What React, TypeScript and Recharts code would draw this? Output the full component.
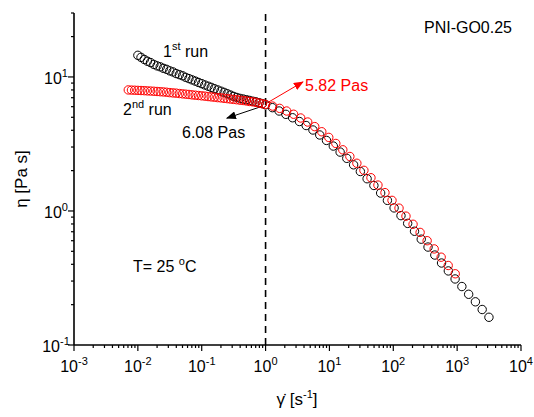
import React from "react";
import { ScatterChart, Scatter, XAxis, YAxis, ReferenceLine } from "recharts";

// shear rate [1/s] and viscosity [Pa s], 1st run (black)
const firstRunRate = [
  0.0100, 0.0112, 0.0126, 0.0141, 0.0158, 0.0178, 0.0200, 0.0224, 0.0251, 0.0282,
  0.0316, 0.0355, 0.0398, 0.0447, 0.0501, 0.0562, 0.0631, 0.0708, 0.0794, 0.0891,
  0.100, 0.112, 0.126, 0.141, 0.158, 0.178, 0.200, 0.224, 0.251, 0.282,
  0.316, 0.355, 0.398, 0.447, 0.501, 0.562, 0.631, 0.708, 0.794, 0.891,
  1.00, 1.28, 1.63, 2.08, 2.65, 3.39, 4.32, 5.52, 7.05, 8.99,
  11.5, 14.7, 18.7, 23.9, 30.5, 38.9, 49.7, 63.4, 80.9, 103,
  132, 168, 215, 274, 350, 447, 570, 728, 929, 1186,
  1514, 1932, 2466, 3148,
];
const firstRunEta = [
  14.5, 14.0, 13.5, 13.1, 12.8, 12.4, 12.1, 11.9, 11.6, 11.4,
  11.1, 10.9, 10.6, 10.4, 10.2, 9.93, 9.72, 9.51, 9.31, 9.10,
  8.91, 8.71, 8.53, 8.36, 8.17, 8.00, 7.83, 7.67, 7.50, 7.33,
  7.16, 7.03, 6.92, 6.84, 6.76, 6.68, 6.59, 6.52, 6.43, 6.32,
  6.19, 5.90, 5.57, 5.26, 4.96, 4.65, 4.34, 4.02, 3.69, 3.36,
  3.05, 2.75, 2.47, 2.21, 1.97, 1.74, 1.55, 1.36, 1.20, 1.054,
  0.923, 0.808, 0.706, 0.616, 0.538, 0.469, 0.409, 0.357, 0.311, 0.273,
  0.239, 0.210, 0.184, 0.161,
];

// 2nd run (red)
const secondRunRate = [
  0.00708, 0.00794, 0.00891,
  0.0100, 0.0112, 0.0126, 0.0141, 0.0158, 0.0178, 0.0200, 0.0224, 0.0251, 0.0282,
  0.0316, 0.0355, 0.0398, 0.0447, 0.0501, 0.0562, 0.0631, 0.0708, 0.0794, 0.0891,
  0.100, 0.112, 0.126, 0.141, 0.158, 0.178, 0.200, 0.224, 0.251, 0.282,
  0.316, 0.355, 0.398, 0.447, 0.501, 0.562, 0.631, 0.708, 0.794, 0.891,
  1.00, 1.29, 1.66, 2.14, 2.75, 3.55, 4.57, 5.89, 7.59, 9.77,
  12.6, 16.2, 20.9, 26.9, 34.7, 44.7, 57.5, 74.1, 95.5, 123,
  158, 204, 263, 339, 437, 562, 724, 933,
];
const secondRunEta = [
  8.00, 7.98, 7.96,
  7.94, 7.92, 7.90, 7.87, 7.85, 7.82, 7.79, 7.76, 7.73, 7.69,
  7.64, 7.60, 7.57, 7.52, 7.48, 7.44, 7.40, 7.35, 7.31, 7.27,
  7.23, 7.19, 7.14, 7.10, 7.06, 7.01, 6.98, 6.93, 6.89, 6.84,
  6.80, 6.76, 6.71, 6.67, 6.62, 6.56, 6.52, 6.46, 6.38, 6.31,
  6.24, 6.06, 5.83, 5.57, 5.27, 4.94, 4.61, 4.26, 3.90, 3.54,
  3.19, 2.86, 2.55, 2.27, 2.01, 1.77, 1.56, 1.37, 1.20, 1.05,
  0.915, 0.796, 0.692, 0.600, 0.521, 0.452, 0.392, 0.340,
];

const xExponents = [-3, -2, -1, 0, 1, 2, 3, 4];
const yExponents = [-1, 0, 1];
const minorSteps = [2, 3, 4, 5, 6, 7, 8, 9];
const xDomain = [1e-3, 1e4];
const yDomain = [0.1, 30];

const font = "Arial, 'Liberation Sans', sans-serif";

const xTicks = xExponents.flatMap((e) => [
  10 ** e,
  ...(e < xExponents[xExponents.length - 1] ? minorSteps.map((m) => m * 10 ** e) : []),
]);
const yTicks = yExponents
  .flatMap((e) => [10 ** e, ...minorSteps.map((m) => m * 10 ** e)])
  .filter((v) => v <= yDomain[1] + 1e-9);

const isMajor = (v: number) => {
  const l = Math.log10(v);
  return Math.abs(l - Math.round(l)) < 1e-6;
};

const Pow = ({ v }: { v: number }) => (
  <>
    <tspan>10</tspan>
    <tspan fontSize={11} dy={-7}>{Math.round(Math.log10(v))}</tspan>
  </>
);

const BottomTick = (p: any) => {
  const v = p.payload.value;
  const major = isMajor(v);
  return (
    <g>
      <line x1={p.x} x2={p.x} y1={p.y} y2={p.y + (major ? 6 : 3)} stroke="#000" strokeWidth={1.2} />
      {major && (
        <text x={p.x} y={p.y + 27} textAnchor="middle" fontSize={16} fontFamily={font} fill="#000">
          <Pow v={v} />
        </text>
      )}
    </g>
  );
};

const LeftTick = (p: any) => {
  const v = p.payload.value;
  const major = isMajor(v);
  return (
    <g>
      <line x1={p.x} x2={p.x - (major ? 6 : 3)} y1={p.y} y2={p.y} stroke="#000" strokeWidth={1.2} />
      {major && (
        <text x={p.x - 18} y={p.y + 7} textAnchor="middle" fontSize={16} fontFamily={font} fill="#000">
          <Pow v={v} />
        </text>
      )}
    </g>
  );
};

const TopTick = (p: any) => {
  const major = isMajor(p.payload.value);
  return <line x1={p.x} x2={p.x} y1={p.y} y2={p.y + (major ? 6 : 3)} stroke="#000" strokeWidth={1.2} />;
};

const RightTick = (p: any) => {
  const major = isMajor(p.payload.value);
  return <line x1={p.x} x2={p.x - (major ? 6 : 3)} y1={p.y} y2={p.y} stroke="#000" strokeWidth={1.2} />;
};

const ring = (color: string) => (p: any) =>
  <circle cx={p.cx} cy={p.cy} r={4.2} fill="none" stroke={color} strokeWidth={1} />;

const firstRun = firstRunRate.map((x, i) => ({ x, y: firstRunEta[i] }));
const secondRun = secondRunRate.map((x, i) => ({ x, y: secondRunEta[i] }));

const axisLine = { stroke: "#000", strokeWidth: 1.6 };

export default function App() {
  return (
    <div style={{ position: "absolute", left: 0, top: 0, width: 534, height: 417, background: "#fff" }}>
      <ScatterChart width={534} height={417} margin={{ top: 13, right: 13, bottom: 0, left: 0 }}>
        <defs>
          <marker id="headBlack" markerWidth="10" markerHeight="8" refX="9" refY="4" orient="auto" markerUnits="userSpaceOnUse">
            <path d="M0,0 L10,4 L0,8 z" fill="#000" />
          </marker>
          <marker id="headRed" markerWidth="10" markerHeight="8" refX="9" refY="4" orient="auto" markerUnits="userSpaceOnUse">
            <path d="M0,0 L10,4 L0,8 z" fill="#ff0000" />
          </marker>
        </defs>
        <XAxis xAxisId="b" dataKey="x" type="number" scale="log" domain={xDomain} allowDataOverflow
          ticks={xTicks} interval={0} height={72} tickSize={0} tickMargin={0} tickLine={false}
          tick={<BottomTick />} axisLine={axisLine} />
        <XAxis xAxisId="t" orientation="top" dataKey="x" type="number" scale="log" domain={xDomain} allowDataOverflow
          ticks={xTicks} interval={0} height={0} tickSize={0} tickMargin={0} tickLine={false}
          tick={<TopTick />} axisLine={axisLine} />
        <YAxis yAxisId="l" dataKey="y" type="number" scale="log" domain={yDomain} allowDataOverflow
          ticks={yTicks} interval={0} width={74} tickSize={0} tickMargin={0} tickLine={false}
          tick={<LeftTick />} axisLine={axisLine} />
        <YAxis yAxisId="r" orientation="right" dataKey="y" type="number" scale="log" domain={yDomain} allowDataOverflow
          ticks={yTicks} interval={0} width={0} tickSize={0} tickMargin={0} tickLine={false}
          tick={<RightTick />} axisLine={axisLine} />
        <ReferenceLine xAxisId="b" yAxisId="l" x={1} stroke="#000" strokeWidth={1.6} strokeDasharray="7 5" />
        <Scatter xAxisId="b" yAxisId="l" data={firstRun} shape={ring("#000")} isAnimationActive={false} />
        <Scatter xAxisId="b" yAxisId="l" data={secondRun} shape={ring("#ff0000")} isAnimationActive={false} />
        <ReferenceLine xAxisId="b" yAxisId="l" segment={[{ x: 1.0, y: 6.3 }, { x: 3.84, y: 9.18 }]}
          stroke="#ff0000" strokeWidth={1} markerEnd="url(#headRed)" />
        <ReferenceLine xAxisId="b" yAxisId="l" segment={[{ x: 0.91, y: 6.07 }, { x: 0.248, y: 4.93 }]}
          stroke="#000" strokeWidth={1} markerEnd="url(#headBlack)" />
      </ScatterChart>
      <svg width={534} height={417} style={{ position: "absolute", left: 0, top: 0, pointerEvents: "none" }}
        fontFamily={font} fontSize={16}>
        <text x={512} y={33} textAnchor="end">PNI-GO0.25</text>
        <text x={163} y={57}>1<tspan fontSize={11} dy={-7}>st</tspan><tspan dy={7}> run</tspan></text>
        <text x={123} y={115}>2<tspan fontSize={11} dy={-7}>nd</tspan><tspan dy={7}> run</tspan></text>
        <text x={182} y={138}>6.08 Pas</text>
        <text x={305} y={91} fill="#ff0000">5.82 Pas</text>
        <text x={133} y={272}>T= 25 <tspan fontSize={11} dy={-7}>o</tspan><tspan dy={7}>C</tspan></text>
        <text transform="translate(27,179) rotate(-90)" textAnchor="middle" fontSize={17}>η [Pa s]</text>
        <text x={297} y={405} textAnchor="middle" fontSize={17}>
          γ̇ [s<tspan fontSize={11} dy={-7}>-1</tspan><tspan dy={7}>]</tspan>
        </text>
      </svg>
    </div>
  );
}
